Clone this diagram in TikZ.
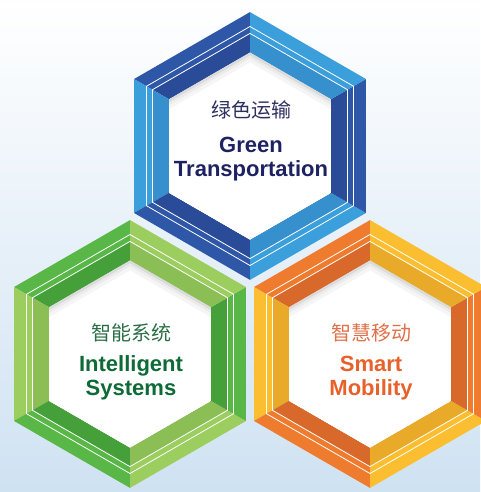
\documentclass[tikz,border=0pt]{standalone}
\usepackage{fontspec}
\setmainfont{Liberation Sans}
\newfontfamily\cjk{Noto Sans CJK SC}
\definecolor{bgblue}{HTML}{CFE2F2}
\definecolor{bgmid}{HTML}{EEF5FB}
\definecolor{bDo}{HTML}{2F57A8}
\definecolor{bDi}{HTML}{2A4B98}
\definecolor{bLo}{HTML}{3A9FDA}
\definecolor{bLi}{HTML}{3790CE}
\definecolor{gDo}{HTML}{58B747}
\definecolor{gDi}{HTML}{45A03A}
\definecolor{gLo}{HTML}{9BCD5F}
\definecolor{gLi}{HTML}{8BBF55}
\definecolor{oDo}{HTML}{EF7B2E}
\definecolor{oDi}{HTML}{D9692A}
\definecolor{oLo}{HTML}{FBBE30}
\definecolor{oLi}{HTML}{E9AA2A}
\definecolor{tBlue}{HTML}{1E2263}
\definecolor{cBlue}{HTML}{2E3160}
\definecolor{tGreen}{HTML}{0E6A36}
\definecolor{cGreen}{HTML}{2A6E45}
\definecolor{tOrange}{HTML}{E8602A}
\definecolor{cOrange}{HTML}{E0704A}
\newcommand\hexring[7]{%
\begin{scope}[shift={(#1pt,#2pt)}]
\foreach \a/\co/\ci in {90/#3/#4,150/#5/#6,210/#3/#4,270/#5/#6,330/#3/#4,30/#5/#6}{
  \fill[\co] (\a:133.9pt) -- ({\a+60}:133.9pt) -- ({\a+60}:112.6pt) -- (\a:112.6pt) -- cycle;
  \fill[\ci] (\a:112.6pt) -- ({\a+60}:112.6pt) -- ({\a+60}:93.5pt) -- (\a:93.5pt) -- cycle;
}
\draw[whiteline] (90:119.5pt) -- (150:119.5pt) -- (210:119.5pt) -- (270:119.5pt) -- (330:119.5pt) -- (30:119.5pt) -- cycle;
\draw[whiteline] (90:112.6pt) -- (150:112.6pt) -- (210:112.6pt) -- (270:112.6pt) -- (330:112.6pt) -- (30:112.6pt) -- cycle;
\begin{scope}
\clip (90:93.5pt) -- (150:93.5pt) -- (210:93.5pt) -- (270:93.5pt) -- (330:93.5pt) -- (30:93.5pt) -- cycle;
\fill[gray!28] (-120pt,-120pt) rectangle (120pt,120pt);
\fill[gray!16] ([yshift=-3pt]90:93.5pt) -- ([yshift=-3pt]150:93.5pt) -- ([yshift=-3pt]210:93.5pt) -- ([yshift=-3pt]270:93.5pt) -- ([yshift=-3pt]330:93.5pt) -- ([yshift=-3pt]30:93.5pt) -- cycle;
\fill[gray!8] ([yshift=-6pt]90:93.5pt) -- ([yshift=-6pt]150:93.5pt) -- ([yshift=-6pt]210:93.5pt) -- ([yshift=-6pt]270:93.5pt) -- ([yshift=-6pt]330:93.5pt) -- ([yshift=-6pt]30:93.5pt) -- cycle;
\fill[white] ([yshift=-10pt]90:93.5pt) -- ([yshift=-10pt]150:93.5pt) -- ([yshift=-10pt]210:93.5pt) -- ([yshift=-10pt]270:93.5pt) -- ([yshift=-10pt]330:93.5pt) -- ([yshift=-10pt]30:93.5pt) -- cycle;
\end{scope}
\end{scope}}
\tikzset{
  whiteline/.style={white, line width=0.8pt, line join=miter},
  cjktext/.style={font=\cjk\fontsize{20}{23}\selectfont, anchor=center},
  entext/.style={font=\bfseries\fontsize{22}{25}\selectfont, anchor=base},
}
\begin{document}
\begin{tikzpicture}[x=1pt,y=1pt]
\useasboundingbox (0,0) rectangle (480,492);
\shade[top color=white, middle color=bgmid, bottom color=bgblue] (0,0) rectangle (480,492);
\hexring{250}{346}{bDo}{bDi}{bLo}{bLi}{top}
\hexring{130}{138}{gDo}{gDi}{gLo}{gLi}{left}
\hexring{370}{138}{oDo}{oDi}{oLo}{oLi}{right}
\node[cjktext, text=cBlue] (c1) at (251,382) {绿色运输};
\node[entext, text=tBlue] (e1a) at (251,339) {Green};
\node[entext, text=tBlue] (e1b) at (251,315) {Transportation};
\node[cjktext, text=cGreen] (c2) at (131,159) {智能系统};
\node[entext, text=tGreen] (e2a) at (131,120) {Intelligent};
\node[entext, text=tGreen] (e2b) at (131,96) {Systems};
\node[cjktext, text=cOrange] (c3) at (371,159) {智慧移动};
\node[entext, text=tOrange] (e3a) at (371,120) {Smart};
\node[entext, text=tOrange] (e3b) at (371,96) {Mobility};
\end{tikzpicture}
\end{document}
